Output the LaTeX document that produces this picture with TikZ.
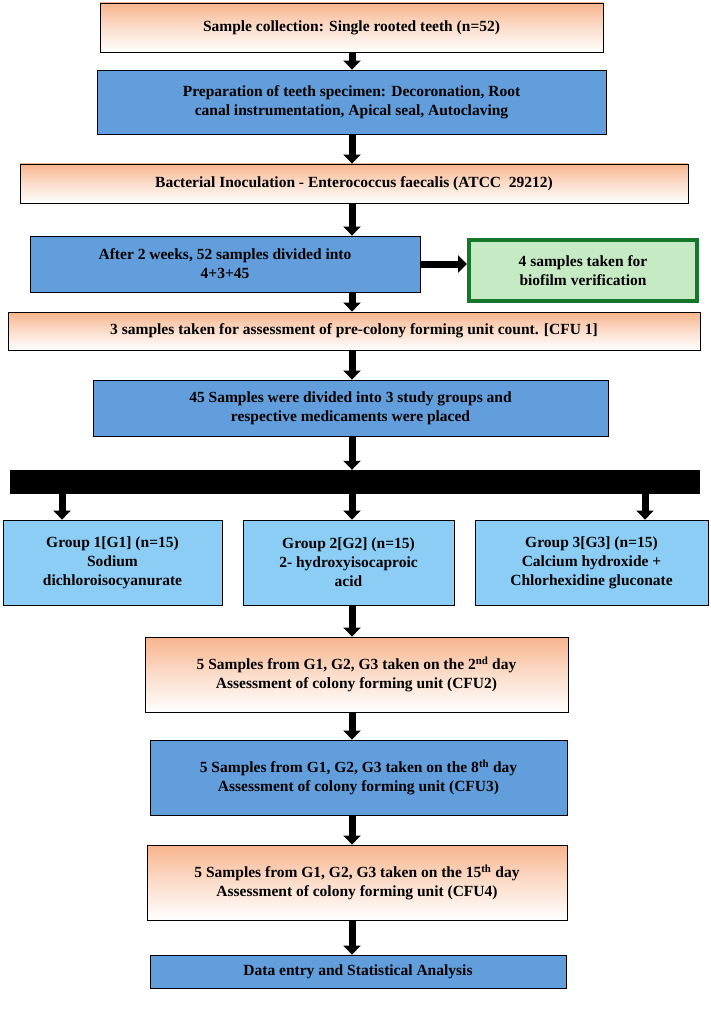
\documentclass[tikz,border=0pt]{standalone}
\usepackage{fontspec}
\setmainfont{Liberation Serif}
\usetikzlibrary{arrows.meta}
\definecolor{peach}{RGB}{247,180,140}
\definecolor{boxblue}{RGB}{98,158,219}
\definecolor{skyblue}{RGB}{140,205,245}
\definecolor{mint}{RGB}{198,234,196}
\definecolor{leaf}{RGB}{30,170,60}
\begin{document}
\begin{tikzpicture}[x=1pt,y=-1pt,
    box/.style = {rectangle, draw, thick, align=center, inner sep=2pt,
                  font=\bfseries\fontsize{15.5}{19}\selectfont},
    P/.style = {box, top color=peach, bottom color=white, middle color=peach!45},
    B/.style = {box, fill=boxblue},
    L/.style = {box, fill=skyblue},
    G/.style = {box, fill=mint, draw=leaf!70!black, line width=4pt},
    arr/.style = {line width=7pt, -{Triangle[width=17pt,length=9pt]}},
                        ]
\useasboundingbox (0,0) rectangle (711,1016);
\coordinate (axis) at (352,0);
\node[P, minimum width=503pt, minimum height=49pt] (s1) at (351.5,27.5) {Sample collection: Single rooted teeth (n=52)};
\node[B, minimum width=509pt, minimum height=64pt] (s2) at (351.5,102) {Preparation of teeth specimen: Decoronation, Root\\canal instrumentation, Apical seal, Autoclaving};
\node[P, minimum width=668pt, minimum height=39pt] (s3) at (354,183.5) {Bacterial Inoculation - Enterococcus faecalis (ATCC\ \ 29212)};
\node[B, minimum width=390pt, minimum height=56pt] (s4) at (225,264) {After 2 weeks, 52 samples divided into\\4+3+45};
\node[G, minimum width=228pt, minimum height=61pt] (bio) at (583,270.5) {4 samples taken for\\biofilm verification};
\node[P, minimum width=692pt, minimum height=38pt] (s5) at (354,331) {3 samples taken for assessment of pre-colony forming unit count. [CFU 1]};
\node[B, minimum width=515pt, minimum height=56pt] (s6) at (350.5,408) {45 Samples were divided into 3 study groups and\\respective medicaments were placed};
\node[fill=black, minimum width=690pt, minimum height=24pt, inner sep=0pt] (bar) at (355,482) {};
\node[L, minimum width=219pt, minimum height=85pt] (g1) at (112.5,562.5) {Group 1[G1] (n=15)\\Sodium\\dichloroisocyanurate};
\node[L, minimum width=211pt, minimum height=85pt] (g2) at (348.5,562.5) {Group 2[G2] (n=15)\\2- hydroxyisocaproic\\acid};
\node[L, minimum width=233pt, minimum height=85pt] (g3) at (591.5,562.5) {Group 3[G3] (n=15)\\Calcium hydroxide +\\Chlorhexidine gluconate};
\node[P, minimum width=423pt, minimum height=75pt] (d2) at (356.5,674.5) {5 Samples from G1, G2, G3 taken on the 2\textsuperscript{nd} day\\Assessment of colony forming unit (CFU2)};
\node[B, minimum width=417pt, minimum height=75pt] (d8) at (358.5,777.5) {5 Samples from G1, G2, G3 taken on the 8\textsuperscript{th} day\\Assessment of colony forming unit (CFU3)};
\node[P, minimum width=420pt, minimum height=75pt] (d15) at (357,882.5) {5 Samples from G1, G2, G3 taken on the 15\textsuperscript{th} day\\Assessment of colony forming unit (CFU4)};
\node[B, minimum width=416pt, minimum height=33pt] (end) at (358,971.5) {Data entry and Statistical Analysis};
% arrows along the middle
\foreach \a/\b in {s1/s2,s2/s3,s3/s4,s4/s5,s5/s6,s6/bar,g2/d2,d2/d8,d8/d15,d15/end}
    \draw[arr] (\a.south -| axis) -- (\b.north -| axis);
\draw[arr] (s4.east) -- (s4.east -| bio.west);
% arrows to the groups
\foreach \g/\x in {g1/62,g2/352,g3/645}{
    \coordinate (\g top) at (\x,0);
    \draw[arr] (bar.south -| \g top) -- (\g.north -| \g top);}
\end{tikzpicture}
\end{document}
